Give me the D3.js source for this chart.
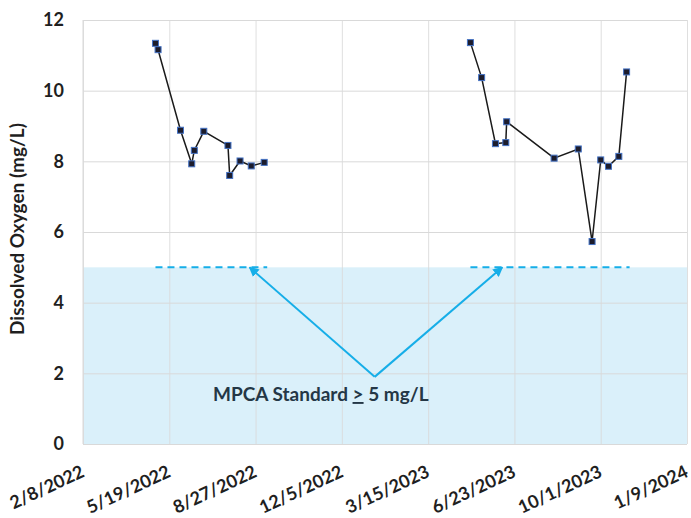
<!DOCTYPE html>
<html lang="en">
<head>
<meta charset="UTF-8">
<title>Dissolved Oxygen</title>
<script src="https://cdn.jsdelivr.net/npm/d3@7"></script>
<style>
  body { margin: 0; background: #fff; }
  text { font-family: Lato, "Open Sans", sans-serif; font-weight: bold; }
</style>
</head>
<body>
<div id="chart"></div>
<script>
    // Sampling dates and dissolved oxygen readings (mg/L), one array per season
    var dates2022 = ["2022-05-03", "2022-05-06", "2022-06-01", "2022-06-14", "2022-06-17", "2022-06-28",
                     "2022-07-26", "2022-07-28", "2022-08-09", "2022-08-22", "2022-09-06"];
    var values2022 = [11.34, 11.16, 8.88, 7.93, 8.31, 8.85, 8.45, 7.60, 8.01, 7.87, 7.97];

    var dates2023 = ["2023-05-03", "2023-05-16", "2023-06-01", "2023-06-13", "2023-06-14", "2023-08-08",
                     "2023-09-05", "2023-09-21", "2023-10-01", "2023-10-10", "2023-10-22", "2023-10-31"];
    var values2023 = [11.36, 10.37, 8.50, 8.53, 9.12, 8.09, 8.35, 5.73, 8.04, 7.86, 8.14, 10.53];

    // Axis ticks
    var xTickDates = ["2022-02-08", "2022-05-19", "2022-08-27", "2022-12-05", "2023-03-15",
                      "2023-06-23", "2023-10-01", "2024-01-09"];
    var yTicks = [0, 2, 4, 6, 8, 10, 12];

    // MPCA standard and annotation points
    var standard = 5;
    var arrowFrom = {date: "2023-01-12", value: 1.9};
    var arrowTo = [{date: "2022-08-20", value: 5}, {date: "2023-06-09", value: 5}];
    var label = ["MPCA Standard ", ">", " 5 mg/L"];

    var parse = d3.timeParse("%Y-%m-%d");
    function toPoints(ds, vs) {
        return ds.map(function(d, i) { return {date: parse(d), value: vs[i]}; });
    }
    var seasons = [toPoints(dates2022, values2022), toPoints(dates2023, values2023)];

    var margin = {top: 20, right: 4, bottom: 74, left: 83},
        width = 691 - margin.left - margin.right,
        height = 518 - margin.top - margin.bottom;

    var svg = d3.select("#chart")
        .append("svg")
        .attr("width", 691)
        .attr("height", 518)
        .append("g")
        .attr("transform", "translate(" + margin.left + "," + margin.top + ")");

    var tickDates = xTickDates.map(parse);
    var x = d3.scaleTime()
        .domain([tickDates[0], tickDates[tickDates.length - 1]])
        .range([0, width]);
    var y = d3.scaleLinear()
        .domain([0, 12])
        .range([height, 0]);

    // Shaded area below the standard
    svg.append("rect")
        .attr("x", 0)
        .attr("y", y(standard))
        .attr("width", width)
        .attr("height", y(0) - y(standard))
        .attr("fill", "#daf0fa");

    // Gridlines
    svg.append("g")
        .call(d3.axisLeft(y).tickValues(yTicks).tickSize(-width).tickFormat(""))
        .call(function(g) { g.select(".domain").remove(); })
        .selectAll("line").attr("stroke", "#d9d9d9");
    svg.append("g")
        .attr("transform", "translate(0," + height + ")")
        .call(d3.axisBottom(x).tickValues(tickDates).tickSize(-height).tickFormat(""))
        .call(function(g) { g.select(".domain").remove(); })
        .selectAll("line").attr("stroke", "#d9d9d9").attr("stroke-opacity", 0.85);
    svg.append("line")
        .attr("x1", 0).attr("x2", 0).attr("y1", 0).attr("y2", height)
        .attr("stroke", "#d9d9d9");

    // Y tick labels
    var yAxis = svg.append("g")
        .call(d3.axisLeft(y).tickValues(yTicks).tickSize(0).tickPadding(19));
    yAxis.select(".domain").remove();
    yAxis.selectAll("text")
        .attr("font-size", "18px")
        .attr("fill", "#1f1f1f")
        .attr("font-family", "Lato, sans-serif")
        .attr("font-weight", 900);

    // X tick labels
    var fmt = function(d) { return (d.getMonth() + 1) + "/" + d.getDate() + "/" + d.getFullYear(); };
    var xAxis = svg.append("g")
        .attr("transform", "translate(0," + height + ")")
        .call(d3.axisBottom(x).tickValues(tickDates).tickSize(0).tickFormat(fmt));
    xAxis.select(".domain").remove();
    xAxis.selectAll("text")
        .attr("font-size", "18px")
        .attr("fill", "#1f1f1f")
        .attr("font-family", "Lato, sans-serif")
        .attr("font-weight", 900)
        .attr("text-anchor", "end")
        .attr("dy", null)
        .attr("y", 0)
        .attr("transform", "translate(2,32) rotate(-25)");

    // Y axis title
    svg.append("text")
        .attr("transform", "rotate(-90)")
        .attr("x", -height / 2 + 3)
        .attr("y", -59)
        .attr("text-anchor", "middle")
        .attr("font-size", "19px")
        .attr("font-weight", 900)
        .attr("fill", "#1f1f1f")
        .text("Dissolved Oxygen (mg/L)");

    // Dashed standard line over each season's range
    var blue = "#16aee8";
    seasons.forEach(function(s) {
        svg.append("line")
            .attr("x1", x(s[0].date))
            .attr("x2", x(s[s.length - 1].date) + 3)
            .attr("y1", y(standard))
            .attr("y2", y(standard))
            .attr("stroke", blue)
            .attr("stroke-width", 2)
            .attr("stroke-dasharray", "7,5");
    });

    // Arrows
    svg.append("defs").append("marker")
        .attr("id", "arrow")
        .attr("viewBox", "0 0 10 10")
        .attr("refX", 9)
        .attr("refY", 5)
        .attr("markerWidth", 5)
        .attr("markerHeight", 5)
        .attr("orient", "auto")
        .append("path")
        .attr("d", "M0,0L10,5L0,10z")
        .attr("fill", blue);
    arrowTo.forEach(function(t) {
        svg.append("line")
            .attr("x1", x(parse(arrowFrom.date)))
            .attr("y1", y(arrowFrom.value))
            .attr("x2", x(parse(t.date)))
            .attr("y2", y(t.value))
            .attr("stroke", blue)
            .attr("stroke-width", 2)
            .attr("marker-end", "url(#arrow)");
    });

    // Annotation text
    var ann = svg.append("text")
        .attr("x", 213 - margin.left)
        .attr("y", 401 - margin.top)
        .attr("font-size", "19px")
        .attr("font-weight", 900)
        .attr("fill", "#243746");
    ann.append("tspan").text(label[0]);
    ann.append("tspan").style("text-decoration", "underline").text(label[1]);
    ann.append("tspan").text(label[2]);

    // Data lines and markers
    var line = d3.line()
        .x(function(d) { return x(d.date); })
        .y(function(d) { return y(d.value); });
    seasons.forEach(function(s) {
        svg.append("path")
            .datum(s)
            .attr("d", line)
            .attr("fill", "none")
            .attr("stroke", "#1a1a1a")
            .attr("stroke-width", 1.5);
        svg.selectAll(null)
            .data(s)
            .enter()
            .append("rect")
            .attr("x", function(d) { return x(d.date) - 3; })
            .attr("y", function(d) { return y(d.value) - 3; })
            .attr("width", 6)
            .attr("height", 6)
            .attr("fill", "#1c1c2c")
            .attr("stroke", "#4472c4")
            .attr("stroke-width", 1);
    });
</script>
</body>
</html>
